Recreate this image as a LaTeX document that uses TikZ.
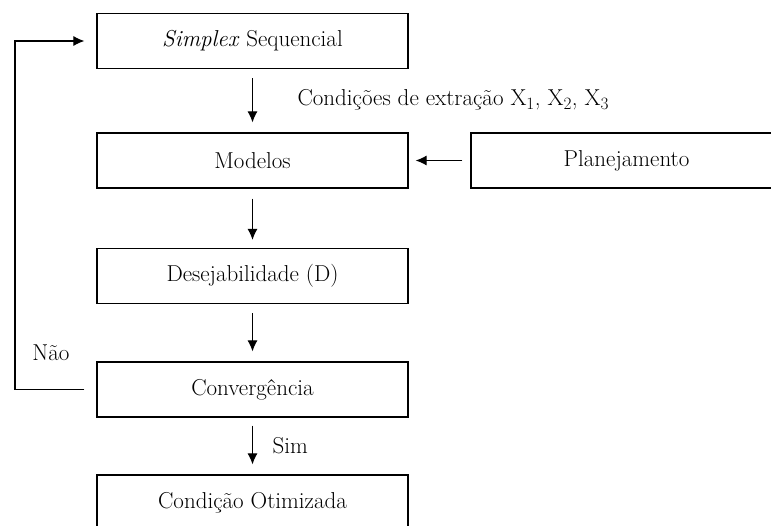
\documentclass[tikz,border=0pt]{standalone}
\usetikzlibrary{arrows.meta}
\tikzset{
    caixa/.style={draw, line width=1.2pt, minimum width=311pt, minimum height=55pt, inner sep=0pt},
    seta/.style={-{Latex[length=11pt, width=10pt]}, line width=1.1pt}
}
\begin{document}
\begin{tikzpicture}[x=1pt, y=-1pt, font=\fontsize{23}{27}\selectfont]
    % Limite da figura
    \useasboundingbox (0, 0) rectangle (771, 525);
    \clip (0, 0) rectangle (771, 525);

    % 1. Caixas do fluxograma
    \node[caixa] (simplex) at (252.5, 41) {\textit{Simplex} Sequencial};
    \node[caixa] (modelos) at (252.5, 160.5) {Modelos};
    \node[caixa] (planej) at (626.5, 160.5) {Planejamento};
    \node[caixa] (desej) at (252.5, 276) {Desejabilidade (D)};
    \node[caixa] (conv) at (252.5, 389.5) {Convergência};
    \node[caixa] (otim) at (252.5, 502.5) {Condição Otimizada};

    % 2. Setas entre as caixas
    \draw[seta, shorten <=9pt, shorten >=10pt] (simplex) -- (modelos);
    \draw[seta, shorten <=8pt, shorten >=7pt] (planej) -- (modelos);
    \draw[seta, shorten <=10pt, shorten >=8pt] (modelos) -- (desej);
    \draw[seta, shorten <=9pt, shorten >=10pt] (desej) -- (conv);
    \draw[seta, shorten <=8pt, shorten >=10pt] (conv) -- (otim);

    % 3. Retorno (Não) de Convergência para o Simplex
    \coordinate (canto1) at (15, 389.5);
    \coordinate (canto2) at (15, 41);
    \draw[seta, shorten <=12pt, shorten >=12pt] (conv.west) -- (canto1) -- (canto2) -- (simplex.west);

    % 4. Rótulos
    \node[anchor=west] (cond) at (294, 100) {Condições de extração X$_1$, X$_2$, X$_3$};
    \node (nao) at (51, 353) {Não};
    \node[anchor=west] (sim) at (269, 446) {Sim};
\end{tikzpicture}
\end{document}
